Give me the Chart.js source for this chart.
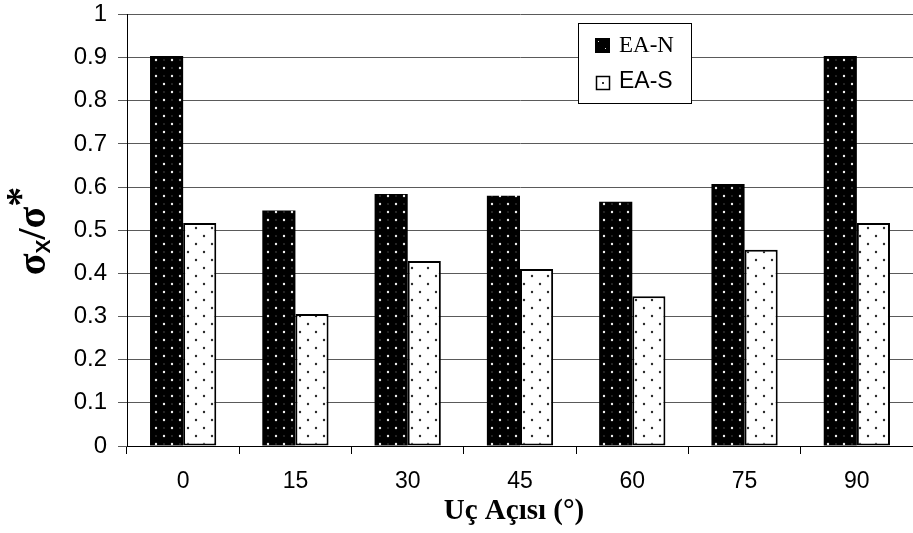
<!DOCTYPE html>
<html>
<head>
<meta charset="utf-8">
<script src="https://cdn.jsdelivr.net/npm/chart.js@4/dist/chart.umd.min.js"></script>
<style>
  html, body { margin: 0; padding: 0; background: #fff; }
  #wrap { width: 913px; height: 533px; }
</style>
</head>
<body>
<div id="wrap"><canvas id="c" width="913" height="533"></canvas></div>
<script>
// Tip angle categories and stress ratios for the two series
const categories = ['0', '15', '30', '45', '60', '75', '90'];
const eaN = [0.904, 0.546, 0.584, 0.580, 0.566, 0.607, 0.904];
const eaS = [0.517, 0.306, 0.429, 0.410, 0.347, 0.455, 0.517];
const seriesNames = ['EA-N', 'EA-S'];
const yTickLabels = ['0', '0.1', '0.2', '0.3', '0.4', '0.5', '0.6', '0.7', '0.8', '0.9', '1'];

// Dotted fill patterns (staggered rows of dots)
function dotPattern(bg, dot, faint, r) {
  const t = document.createElement('canvas');
  t.width = 16; t.height = 16;
  const g = t.getContext('2d');
  g.fillStyle = bg; g.fillRect(0, 0, 16, 16);
  g.fillStyle = dot;
  [[4, 4], [12, 12]].forEach(([x, y]) => {
    g.beginPath(); g.arc(x, y, r, 0, Math.PI * 2); g.fill();
  });
  if (faint) {
    g.fillStyle = faint;
    [[12, 4], [4, 12]].forEach(([x, y]) => {
      g.beginPath(); g.arc(x, y, r * 0.6, 0, Math.PI * 2); g.fill();
    });
  }
  return g.createPattern(t, 'repeat');
}
const ctx0 = document.getElementById('c').getContext('2d');
const darkFill = dotPattern('#000000', '#f0f0f0', '#555555', 1.2);
const lightFill = dotPattern('#ffffff', '#2a2a2a', null, 1.2);

// Custom legend and axis titles
const decorations = {
  id: 'decorations',
  afterDraw(chart) {
    const c = chart.ctx;
    c.save();
    // legend box
    c.fillStyle = '#fff';
    c.fillRect(578, 23, 113, 80);
    c.strokeStyle = '#000'; c.lineWidth = 1;
    c.strokeRect(578.5, 23.5, 113, 80);
    // EA-N swatch
    c.fillStyle = '#000';
    c.fillRect(595, 38, 15, 15);
    c.fillStyle = '#ddd';
    c.fillRect(598, 41, 1, 1); c.fillRect(605, 48, 1, 1);
    c.fillStyle = '#000';
    c.font = '23px "Liberation Serif"';
    c.textBaseline = 'middle'; c.textAlign = 'left';
    c.fillText(seriesNames[0], 619, 46);
    // EA-S swatch
    c.fillStyle = '#fff';
    c.fillRect(596, 76, 14, 14);
    c.strokeStyle = '#000'; c.lineWidth = 1.5;
    c.strokeRect(596.5, 76.5, 13, 13);
    c.fillStyle = '#333';
    c.fillRect(602, 82, 2, 2);
    c.fillStyle = '#000';
    c.font = '23px "Liberation Sans"';
    c.fillText(seriesNames[1], 619, 82);

    // x-axis title
    c.font = 'bold 29px "Liberation Serif"';
    c.textAlign = 'center'; c.textBaseline = 'alphabetic';
    c.fillText('Uç Açısı (°)', 514, 519);

    // y-axis title: σx/σ*
    c.translate(45, 231);
    c.rotate(-Math.PI / 2);
    const parts = [
      { t: 'σ', f: 'bold 40px "Liberation Serif"', dy: 0 },
      { t: 'X', f: 'bold 21px "Liberation Sans"', dy: 5 },
      { t: '/σ', f: 'bold 40px "Liberation Serif"', dy: 0 },
      { t: '*', f: 'bold 40px "Liberation Serif"', dy: -12 }
    ];
    let total = 0;
    parts.forEach(p => { c.font = p.f; p.w = c.measureText(p.t).width; total += p.w; });
    let x = -total / 2;
    c.textAlign = 'left';
    parts.forEach(p => { c.font = p.f; c.fillText(p.t, x, p.dy); x += p.w; });
    c.restore();
  }
};

Chart.defaults.font.family = '"Liberation Sans", Arial, sans-serif';
Chart.defaults.color = '#000';

new Chart(ctx0, {
  type: 'bar',
  data: {
    labels: categories,
    datasets: [
      { label: seriesNames[0], data: eaN, backgroundColor: darkFill, borderColor: '#555', borderWidth: 0 },
      { label: seriesNames[1], data: eaS, backgroundColor: lightFill, borderColor: '#000', borderWidth: 2, borderSkipped: false }
    ]
  },
  options: {
    responsive: false,
    animation: false,
    devicePixelRatio: 1,
    layout: { padding: { top: 0, left: 0, right: 0, bottom: 0 } },
    datasets: { bar: { barPercentage: 1.0, categoryPercentage: 0.59 } },
    plugins: { legend: { display: false }, tooltip: { enabled: false } },
    scales: {
      x: {
        afterFit(s) { s.height = 87; s.paddingLeft = 0; s.paddingRight = 0; },
        grid: { display: true, drawOnChartArea: false, drawTicks: true, tickLength: 8, color: '#000', offset: true },
        border: { display: true, color: '#000', width: 1 },
        ticks: { font: { size: 23 }, padding: 14, color: '#000' }
      },
      y: {
        min: 0, max: 1,
        afterFit(s) { s.width = 127; s.paddingTop = 14.5; s.paddingBottom = 0; },
        grid: { color: '#5a5a5a', lineWidth: 1, tickLength: 9 },
        border: { display: true, color: '#000', width: 1 },
        ticks: {
          stepSize: 0.1, font: { size: 24, lineHeight: 1.0 }, padding: 11, color: '#000',
          callback: (v, i) => yTickLabels[i]
        }
      }
    }
  },
  plugins: [decorations]
});
</script>
</body>
</html>
